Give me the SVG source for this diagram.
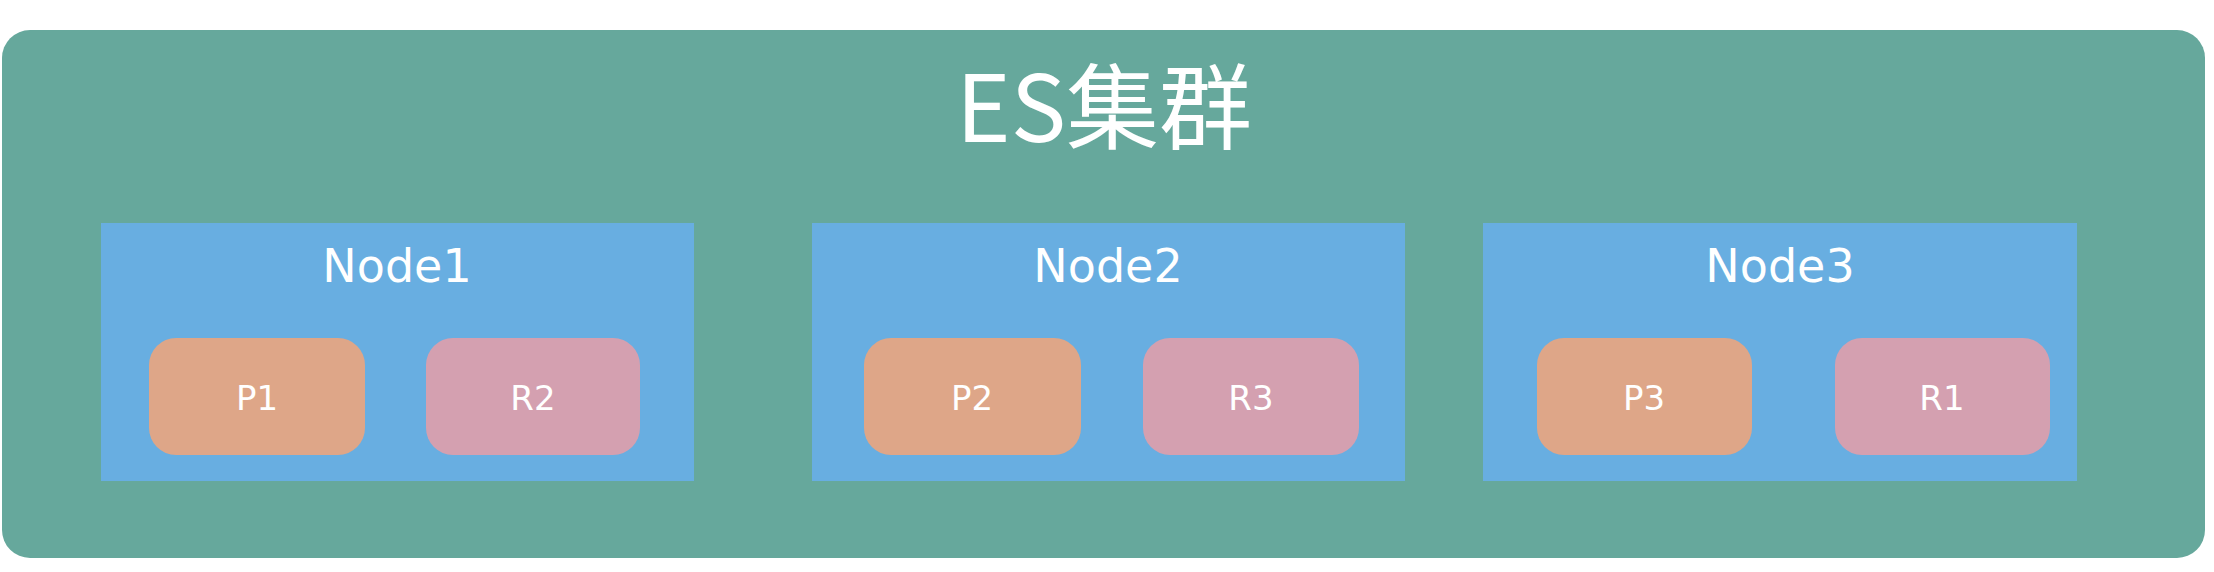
<svg xmlns="http://www.w3.org/2000/svg" width="2214" height="572" viewBox="0 0 2214 572">
<style>
.cluster{fill:#66a89c}
.node{fill:#68aee1}
.p{fill:#dea688}
.r{fill:#d4a0b0}
.t{fill:#ffffff;font-family:"DejaVu Sans","Noto Sans",sans-serif;text-anchor:middle}
.nt{font-size:46px}
.st{font-size:34px}
.title{fill:#ffffff;font-family:"Noto Sans CJK SC","Noto Sans",sans-serif;font-size:93px;text-anchor:middle}
</style>
<rect x="0" y="0" width="2214" height="572" fill="#ffffff"/>
<g id="cluster">
<rect class="cluster" x="2" y="30" width="2203" height="528" rx="28" ry="28"/>
<text class="title" x="1104" y="142">ES集群</text>
</g>
<g id="node1">
<rect class="node" x="101" y="223" width="593" height="258"/>
<text class="t nt" x="397" y="282">Node1</text>
</g>
<g id="node2">
<rect class="node" x="812" y="223" width="593" height="258"/>
<text class="t nt" x="1108" y="282">Node2</text>
</g>
<g id="node3">
<rect class="node" x="1483" y="223" width="594" height="258"/>
<text class="t nt" x="1780" y="282">Node3</text>
</g>
<g id="p1">
<rect class="p" x="149" y="338" width="216" height="117" rx="27" ry="27"/>
<text class="t st" x="257" y="410">P1</text>
</g>
<g id="r2">
<rect class="r" x="426" y="338" width="214" height="117" rx="27" ry="27"/>
<text class="t st" x="533" y="410">R2</text>
</g>
<g id="p2">
<rect class="p" x="864" y="338" width="217" height="117" rx="27" ry="27"/>
<text class="t st" x="972" y="410">P2</text>
</g>
<g id="r3">
<rect class="r" x="1143" y="338" width="216" height="117" rx="27" ry="27"/>
<text class="t st" x="1251" y="410">R3</text>
</g>
<g id="p3">
<rect class="p" x="1537" y="338" width="215" height="117" rx="27" ry="27"/>
<text class="t st" x="1644" y="410">P3</text>
</g>
<g id="r1">
<rect class="r" x="1835" y="338" width="215" height="117" rx="27" ry="27"/>
<text class="t st" x="1942" y="410">R1</text>
</g>
<g id="connectors"></g>
</svg>
